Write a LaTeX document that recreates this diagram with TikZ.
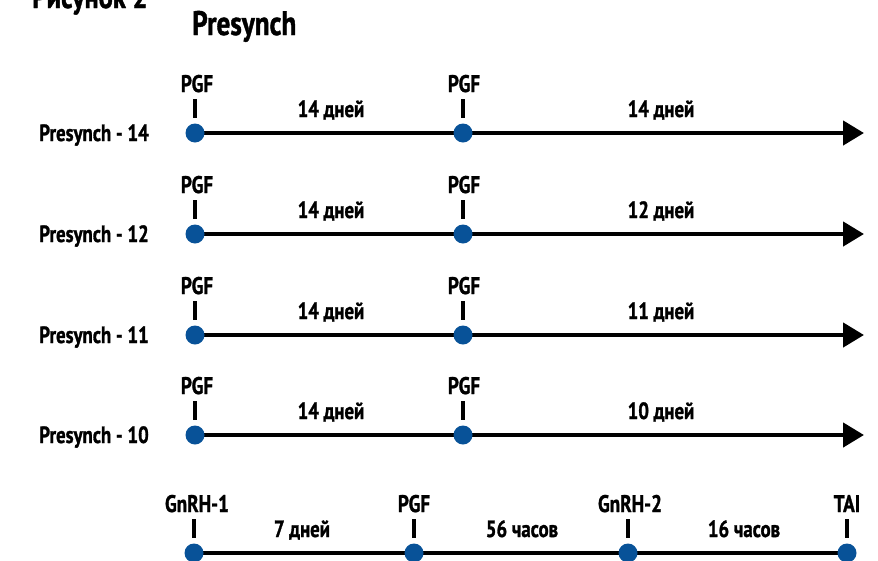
\documentclass[tikz,border=0pt]{standalone}
\usepackage{fontspec}
\setmainfont{PT Sans}[FakeStretch=0.8,BoldFeatures={FakeBold=1.2}]
\usetikzlibrary{arrows.meta,backgrounds}
\definecolor{dotblue}{RGB}{8,82,152}
\begin{document}
\begin{tikzpicture}[x=1pt,y=-1pt,
  axis/.style={line width=4.5pt},
  dot/.style={circle,fill=dotblue,inner sep=0pt,minimum size=19pt},
  tickmark/.style={line width=4pt},
  evlabel/.style={font=\bfseries\fontsize{24}{24}\selectfont,anchor=base,inner sep=0pt},
  ivlabel/.style={font=\bfseries\fontsize{23.5}{23.5}\selectfont,anchor=base,inner sep=0pt},
  rowlabel/.style={font=\bfseries\fontsize{23.5}{23.5}\selectfont,anchor=base east,inner sep=0pt},
  arr/.style={-{Triangle[length=21pt,width=24pt]}}
]
\useasboundingbox (0,0) rectangle (878,560);
\node[font=\bfseries\fontsize{33}{33}\selectfont,anchor=base west,inner sep=0pt] (fig) at (32,8) {Рисунок 2};
\node[font=\bfseries\fontsize{34}{34}\selectfont,anchor=base west,inner sep=0pt] (title) at (192,35) {Presynch};

\foreach \y/\n/\r in {133/14/14, 234/12/12, 335/11/11, 435/10/10}{
  \node[dot] (a\n) at (195,\y) {};
  \node[dot] (b\n) at (463,\y) {};
  \coordinate (e\n) at (864,\y);
  \begin{scope}[on background layer]
    \draw[axis,arr] (a\n.center) -- (e\n);
  \end{scope}
  \draw[tickmark] (a\n.center) ++(0,-34) -- ++(0,19);
  \draw[tickmark] (b\n.center) ++(0,-34) -- ++(0,19);
  \node[evlabel] (pa\n) at (197,\y-41) {PGF};
  \node[evlabel] (pb\n) at (464,\y-41) {PGF};
  \node[ivlabel] (ia\n) at (331,\y-16) {14 дней};
  \node[ivlabel] (ib\n) at (661,\y-16) {\r\ дней};
  \node[rowlabel] (rl\n) at (149,\y+8) {Presynch - \n};
}

% bottom row
\node[dot] (g1) at (194,553) {};
\node[dot] (pg) at (414,553) {};
\node[dot] (g2) at (628,553) {};
\node[dot] (tai) at (847,553) {};
\begin{scope}[on background layer]
  \draw[axis] (g1.center) -- (tai.center);
\end{scope}
\foreach \d in {g1,pg,g2,tai}{
  \draw[tickmark] (\d.center) ++(0,-34) -- ++(0,19);
}
\node[evlabel] (lg1) at (197,512) {GnRH-1};
\node[evlabel] (lpg) at (414,512) {PGF};
\node[evlabel] (lg2) at (630,512) {GnRH-2};
\node[evlabel] (ltai) at (847,512) {TAI};
\node[ivlabel] (i1) at (302,537) {7 дней};
\node[ivlabel] (i2) at (522,537) {56 часов};
\node[ivlabel] (i3) at (744,537) {16 часов};
\end{tikzpicture}
\end{document}
